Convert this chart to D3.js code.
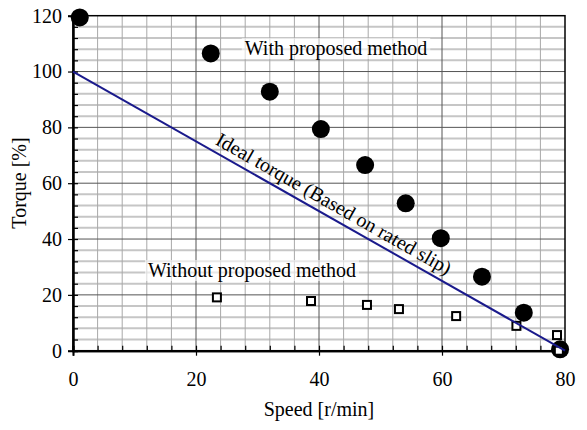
<!DOCTYPE html>
<html>
<head>
<meta charset="utf-8">
<script src="https://cdn.jsdelivr.net/npm/d3@7"></script>
<style>
	body { margin: 0; background: #fff; }
	svg text { font-family: "Liberation Serif", "Times New Roman", serif; fill: #000; }
</style>
</head>
<body>
<div id="chart"></div>
<script>
var width = 587,
	height = 430;

// with proposed method (filled circles)
var withSpeed = [1.1, 22.4, 32.0, 40.3, 47.5, 54.1, 59.8, 66.5, 73.3, 79.2];
var withTorque = [119.4, 106.5, 92.8, 79.4, 66.5, 52.8, 40.3, 26.5, 13.6, 0.5];

// without proposed method (open squares)
var withoutSpeed = [23.4, 38.7, 47.8, 53.0, 62.3, 72.1, 78.7, 79.0];
var withoutTorque = [19.1, 17.8, 16.4, 14.9, 12.4, 8.9, 5.6, 0];

// ideal torque line
var idealSpeed = [0, 80];
var idealTorque = [100, 0];

var xTicks = [0, 20, 40, 60, 80];
var yTicks = [0, 20, 40, 60, 80, 100, 120];

var x = d3.scaleLinear().domain([0, 80]).range([73, 565]);
var y = d3.scaleLinear().domain([0, 120]).range([350.7, 15.7]);

var minorX = d3.range(0, 81, 4);
var minorY = d3.range(0, 121, 4);

var serif = "'Liberation Serif', 'Times New Roman', serif";

var svg = d3.select("#chart")
	.append("svg")
	.attr("width", width)
	.attr("height", height);

// grid
svg.append("g").selectAll("line")
	.data(minorY.filter(function(d) { return d % 20 != 0; }))
	.enter().append("line")
	.attr("x1", x(0)).attr("x2", x(80))
	.attr("y1", function(d) { return y(d); })
	.attr("y2", function(d) { return y(d); })
	.attr("stroke", "#c6c6c6")
	.attr("stroke-width", 2);

svg.append("g").selectAll("line")
	.data(minorX.filter(function(d) { return d % 20 != 0; }))
	.enter().append("line")
	.attr("y1", y(0)).attr("y2", y(120))
	.attr("x1", function(d) { return x(d); })
	.attr("x2", function(d) { return x(d); })
	.attr("stroke", "#a8a8a8")
	.attr("stroke-width", 1);

svg.append("g").selectAll("line")
	.data(yTicks.slice(1, -1))
	.enter().append("line")
	.attr("x1", x(0)).attr("x2", x(80))
	.attr("y1", function(d) { return y(d); })
	.attr("y2", function(d) { return y(d); })
	.attr("stroke", "#555")
	.attr("stroke-width", 1);

svg.append("g").selectAll("line")
	.data(xTicks.slice(1, -1))
	.enter().append("line")
	.attr("y1", y(0)).attr("y2", y(120))
	.attr("x1", function(d) { return x(d); })
	.attr("x2", function(d) { return x(d); })
	.attr("stroke", "#555")
	.attr("stroke-width", 1);

// labels with light backing
function label(txt, cx, by) {
	var t = svg.append("text")
		.attr("x", cx)
		.attr("y", by)
		.attr("text-anchor", "middle")
		.style("font-size", "20px")
		.text(txt);
	var b = t.node().getBBox();
	svg.insert("rect", function() { return t.node(); })
		.attr("x", b.x - 3).attr("y", b.y + 1)
		.attr("width", b.width + 6).attr("height", b.height - 2)
		.attr("fill", "#fff")
		.attr("opacity", 0.6);
}
label("With proposed method", 336, 55);
label("Without proposed method", 252, 277);

// border
svg.append("rect")
	.attr("x", x(0)).attr("y", y(120))
	.attr("width", x(80) - x(0))
	.attr("height", y(0) - y(120))
	.attr("fill", "none")
	.attr("stroke", "#000")
	.attr("stroke-width", 1.5);

// axes
var yAxisMinor = d3.axisLeft(y).tickValues(minorY).tickSize(-5).tickFormat("");
var xAxisMinor = d3.axisBottom(x).tickValues(minorX).tickSize(-5).tickFormat("");
svg.append("g").attr("transform", "translate(" + x(0) + ",0)").call(yAxisMinor);
svg.append("g").attr("transform", "translate(0," + y(0) + ")").call(xAxisMinor);

svg.append("g")
	.attr("transform", "translate(" + x(0) + ",0)")
	.call(d3.axisLeft(y).tickValues(yTicks).tickSize(5).tickPadding(6).tickFormat(d3.format("d")))
	.attr("font-family", serif)
	.attr("font-size", 20);
svg.append("g")
	.attr("transform", "translate(0," + y(0) + ")")
	.call(d3.axisBottom(x).tickValues(xTicks).tickSize(5).tickPadding(16).tickFormat(d3.format("d")))
	.attr("font-family", serif)
	.attr("font-size", 20);

svg.selectAll(".domain").attr("stroke", "#000").attr("stroke-width", 2);
svg.selectAll(".tick line").attr("stroke", "#000").attr("stroke-width", 1.2);
svg.selectAll(".tick text").attr("fill", "#000");

svg.append("text")
	.attr("x", 319)
	.attr("y", 416)
	.attr("text-anchor", "middle")
	.style("font-size", "20px")
	.text("Speed [r/min]");

svg.append("text")
	.attr("transform", "translate(26,183) rotate(-90)")
	.attr("text-anchor", "middle")
	.style("font-size", "20px")
	.text("Torque [%]");

// circles
var withData = withSpeed.map(function(d, i) { return {s: d, t: withTorque[i]}; });
svg.selectAll(".dot")
	.data(withData)
	.enter().append("circle")
	.attr("class", "dot")
	.attr("cx", function(d) { return x(d.s); })
	.attr("cy", function(d) { return y(d.t); })
	.attr("r", 9)
	.attr("fill", "#000");

// squares
var withoutData = withoutSpeed.map(function(d, i) { return {s: d, t: withoutTorque[i]}; });
svg.selectAll(".sq")
	.data(withoutData)
	.enter().append("rect")
	.attr("class", "sq")
	.attr("x", function(d) { return x(d.s) - 4; })
	.attr("y", function(d) { return y(d.t) - 4; })
	.attr("width", 8)
	.attr("height", 8)
	.attr("fill", "#fff")
	.attr("stroke", "#000")
	.attr("stroke-width", 2);

// ideal torque line
var ideal = idealSpeed.map(function(d, i) { return [d, idealTorque[i]]; });
svg.append("path")
	.datum(ideal)
	.attr("d", d3.line().x(function(d) { return x(d[0]); }).y(function(d) { return y(d[1]); }))
	.attr("fill", "none")
	.attr("stroke", "#1a1a8c")
	.attr("stroke-width", 2);

var ang = Math.atan2(y(0) - y(100), x(80) - x(0)) * 180 / Math.PI;
svg.append("text")
	.attr("transform", "translate(" + x(41.3) + "," + y(100 - 1.25 * 41.3) + ") rotate(" + ang + ")")
	.attr("y", -7)
	.attr("text-anchor", "middle")
	.style("font-size", "20px")
	.text("Ideal torque (Based on rated slip)");
</script>
</body>
</html>
